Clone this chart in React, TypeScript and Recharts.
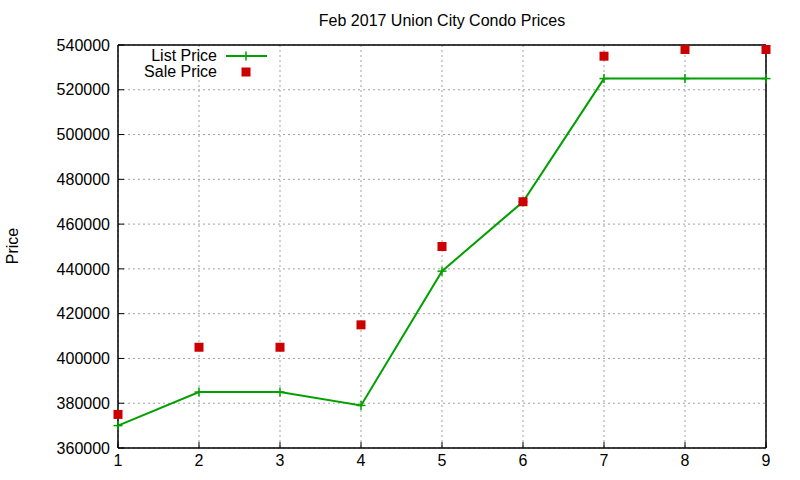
import { ComposedChart, Line, Scatter, XAxis, YAxis, CartesianGrid, Customized } from "recharts";

const months = [1, 2, 3, 4, 5, 6, 7, 8, 9];
const listPrice = [370000, 385000, 385000, 379000, 439000, 470000, 525000, 525000, 525000];
const salePrice = [375000, 405000, 405000, 415000, 450000, 470000, 535000, 538000, 538000];
const yTicks = [360000, 380000, 400000, 420000, 440000, 460000, 480000, 500000, 520000, 540000];

const data = months.map((m, i) => ({ x: m, list: listPrice[i], sale: salePrice[i] }));

const GREEN = "#00a000";
const RED = "#cc0000";
const FONT = "'Liberation Sans', Arial, sans-serif";

function PlusDot(props: any) {
  const { cx, cy } = props;
  if (cx == null || cy == null) return null;
  return (
    <g>
      <line x1={cx - 4.5} x2={cx + 4.5} y1={cy} y2={cy} stroke={GREEN} strokeWidth={1.5} />
      <line x1={cx} x2={cx} y1={cy - 4.5} y2={cy + 4.5} stroke={GREEN} strokeWidth={1.5} />
    </g>
  );
}

function SquareDot(props: any) {
  const { cx, cy } = props;
  if (cx == null || cy == null) return null;
  return <rect x={cx - 4.5} y={cy - 4.5} width={9} height={9} fill={RED} />;
}

function Annotations() {
  return (
    <g fontFamily={FONT} fontSize={16} fill="#000">
      <text x={442} y={26} textAnchor="middle">Feb 2017 Union City Condo Prices</text>
      <text x={18} y={246} textAnchor="middle" transform="rotate(-90 18 246)">Price</text>
      <text x={217} y={61} textAnchor="end">List Price</text>
      <line x1={226} x2={267} y1={56} y2={56} stroke={GREEN} strokeWidth={2} />
      <line x1={246} x2={246} y1={51.5} y2={60.5} stroke={GREEN} strokeWidth={1.5} />
      <text x={217} y={77} textAnchor="end">Sale Price</text>
      <rect x={241.5} y={67.5} width={9} height={9} fill={RED} />
    </g>
  );
}

export default function App() {
  const tickStyle = { fontSize: 16, fontFamily: FONT, fill: "#000" };
  const border = { stroke: "#000", strokeWidth: 1.5 };
  return (
    <div style={{ position: "absolute", left: 0, top: 0, width: 800, height: 480, background: "#fff" }}>
      <ComposedChart width={800} height={480} data={data} margin={{ top: 44, right: 33, bottom: 2, left: 58 }}>
        <CartesianGrid stroke="#a0a0a0" strokeDasharray="2 3" />
        <XAxis
          dataKey="x"
          type="number"
          domain={[1, 9]}
          ticks={months}
          height={30}
          tickSize={-6}
          tickMargin={13}
          tick={tickStyle}
          axisLine={border}
          tickLine={{ stroke: "#000" }}
        />
        <XAxis
          xAxisId="top"
          orientation="top"
          dataKey="x"
          type="number"
          domain={[1, 9]}
          ticks={months}
          height={1}
          tickSize={-6}
          tick={false}
          axisLine={border}
          tickLine={{ stroke: "#000" }}
        />
        <YAxis
          type="number"
          domain={[360000, 540000]}
          ticks={yTicks}
          width={60}
          tickSize={-6}
          tickMargin={14}
          tick={tickStyle}
          axisLine={border}
          tickLine={{ stroke: "#000" }}
        />
        <YAxis
          yAxisId="right"
          orientation="right"
          type="number"
          domain={[360000, 540000]}
          ticks={yTicks}
          width={1}
          tickSize={-6}
          tick={false}
          axisLine={border}
          tickLine={{ stroke: "#000" }}
        />
        <Line
          dataKey="list"
          stroke={GREEN}
          strokeWidth={2}
          dot={<PlusDot />}
          activeDot={false}
          isAnimationActive={false}
        />
        <Scatter dataKey="sale" fill={RED} shape={<SquareDot />} isAnimationActive={false} />
        <Customized component={<Annotations />} />
      </ComposedChart>
    </div>
  );
}
